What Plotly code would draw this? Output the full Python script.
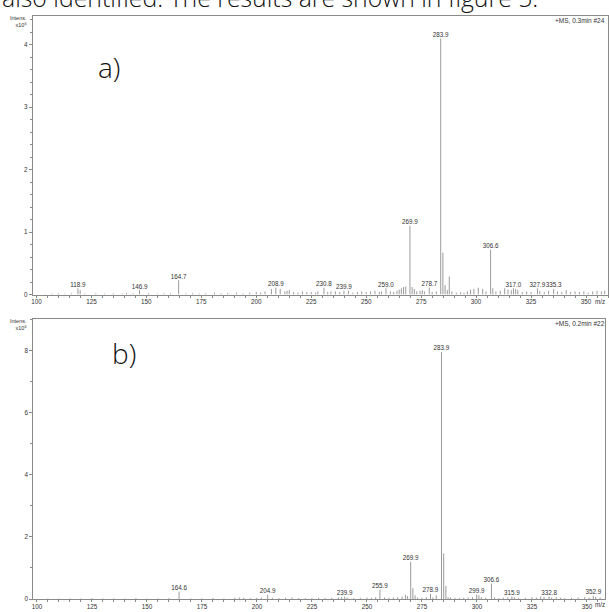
import plotly.graph_objects as go

# ---------------- data (intensity in x10^6) ----------------
top_mz = [104, 107, 110, 113, 116, 118.9, 119.9, 122, 127, 131, 135, 139, 141, 144, 146.9,
          151, 155, 158, 161, 164.7, 168, 171, 174, 177, 181, 184, 187, 191, 194, 197, 200,
          202, 204, 206.9, 208.9, 210.9, 213, 214, 215, 217, 219, 221, 223, 225, 227, 228,
          230.8, 232.5, 234, 236, 238, 239.9, 241.9, 244, 246, 248, 250, 252, 254, 256, 257,
          259.0, 261, 262.5, 264, 265, 266, 267, 268, 269.9, 270.9, 271.9, 273, 274.5, 275.5,
          276.5, 278.7, 280, 281.9, 283.9, 284.9, 285.9, 286.9, 287.8, 289, 291, 293, 294.5,
          296, 297.5, 299, 301, 303, 304.5, 306.6, 307.6, 309, 311, 313, 314.5, 316, 317.0,
          318, 319, 321, 323, 325, 327.9, 329, 331, 333, 335.3, 337, 339, 341, 343, 345, 347,
          349, 351, 353, 355, 357, 358.5]
top_int = [0.01, 0.015, 0.02, 0.015, 0.02, 0.10, 0.07, 0.015, 0.02, 0.015, 0.02, 0.015, 0.025,
           0.02, 0.07, 0.02, 0.015, 0.02, 0.02, 0.23, 0.02, 0.02, 0.015, 0.02, 0.03, 0.02, 0.025,
           0.03, 0.02, 0.03, 0.04, 0.03, 0.05, 0.09, 0.11, 0.09, 0.05, 0.06, 0.07, 0.04, 0.03,
           0.05, 0.04, 0.04, 0.03, 0.05, 0.11, 0.04, 0.05, 0.05, 0.04, 0.06, 0.06, 0.03, 0.04,
           0.05, 0.04, 0.05, 0.06, 0.04, 0.05, 0.10, 0.05, 0.04, 0.06, 0.08, 0.10, 0.12, 0.13,
           1.10, 0.12, 0.09, 0.05, 0.06, 0.07, 0.05, 0.11, 0.04, 0.05, 4.10, 0.67, 0.15, 0.07,
           0.29, 0.05, 0.03, 0.04, 0.03, 0.05, 0.08, 0.09, 0.11, 0.09, 0.05, 0.72, 0.10, 0.05,
           0.06, 0.10, 0.08, 0.07, 0.10, 0.09, 0.07, 0.04, 0.05, 0.04, 0.10, 0.06, 0.04, 0.06,
           0.09, 0.05, 0.04, 0.07, 0.04, 0.05, 0.04, 0.05, 0.03, 0.05, 0.06, 0.05, 0.06]
top_label_mz = [118.9, 146.9, 164.7, 208.9, 230.8, 239.9, 259.0, 269.9, 278.7, 283.9,
                306.6, 317.0, 327.9, 335.3]
top_label_int = [0.10, 0.07, 0.23, 0.11, 0.11, 0.06, 0.10, 1.10, 0.11, 4.10, 0.72, 0.10, 0.10, 0.09]
top_label_txt = ["118.9", "146.9", "164.7", "208.9", "230.8", "239.9", "259.0", "269.9",
                 "278.7", "283.9", "306.6", "317.0", "327.9", "335.3"]

bot_mz = [105, 110, 115, 120, 125, 130, 135, 140, 145, 150, 155, 160, 164.6, 170, 175, 180,
          185, 190, 192, 194, 197, 200, 202, 204.9, 207, 210, 213, 216, 219, 222, 225, 228,
          231, 234, 237, 238.5, 239.9, 241, 244, 247, 250, 252, 254, 255.9, 258, 260, 262, 264,
          266, 267.5, 268.5, 269.9, 270.9, 271.9, 273, 275, 277, 278.9, 280, 281.5, 283.9,
          284.9, 285.9, 286.9, 288, 290, 292, 294, 296, 298, 299.9, 300.9, 302, 304, 306.6,
          308, 310, 312, 314, 315.9, 317, 319, 322, 325, 327, 329, 330.5, 332.8, 334, 336,
          338, 340, 343, 346, 349, 351, 352.9, 354, 356]
bot_int = [0.02, 0.02, 0.02, 0.02, 0.03, 0.02, 0.02, 0.02, 0.03, 0.02, 0.02, 0.03, 0.24, 0.02,
           0.02, 0.03, 0.02, 0.04, 0.05, 0.04, 0.03, 0.04, 0.05, 0.14, 0.04, 0.03, 0.04, 0.05,
           0.03, 0.03, 0.03, 0.04, 0.03, 0.04, 0.05, 0.06, 0.08, 0.05, 0.03, 0.04, 0.05, 0.04,
           0.06, 0.30, 0.05, 0.04, 0.05, 0.06, 0.08, 0.14, 0.10, 1.20, 0.35, 0.12, 0.05, 0.04,
           0.06, 0.17, 0.05, 0.12, 7.95, 1.47, 0.42, 0.06, 0.05, 0.04, 0.03, 0.04, 0.05, 0.06,
           0.15, 0.12, 0.06, 0.04, 0.50, 0.05, 0.03, 0.04, 0.05, 0.08, 0.06, 0.04, 0.04, 0.06,
           0.05, 0.08, 0.07, 0.08, 0.05, 0.06, 0.04, 0.03, 0.04, 0.05, 0.06, 0.05, 0.10, 0.07,
           0.05]
bot_label_mz = [164.6, 204.9, 239.9, 255.9, 269.9, 278.9, 283.9, 299.9, 306.6, 315.9, 332.8, 352.9]
bot_label_int = [0.24, 0.14, 0.08, 0.30, 1.20, 0.17, 7.95, 0.15, 0.50, 0.08, 0.08, 0.10]
bot_label_txt = ["164.6", "204.9", "239.9", "255.9", "269.9", "278.9", "283.9", "299.9",
                 "306.6", "315.9", "332.8", "352.9"]

x_ticks = [100, 125, 150, 175, 200, 225, 250, 275, 300, 325, 350]

# ---------------- styling ----------------
W, H = 609, 612
AX = "#8a8a8a"
BAR = "#9a9a9a"
TXT = "#333333"
SMALL = dict(family="Liberation Sans, Arial, sans-serif", size=6.3, color=TXT)


def sticks(mz, inten):
    xs, ys = [], []
    for m, v in zip(mz, inten):
        xs += [m, m, None]
        ys += [0, v, None]
    return xs, ys


fig = go.Figure()

tx, ty = sticks(top_mz, top_int)
fig.add_trace(go.Scatter(x=tx, y=ty, mode="lines", line=dict(color=BAR, width=1),
                         xaxis="x", yaxis="y", hoverinfo="skip", showlegend=False))
fig.add_trace(go.Scatter(x=top_label_mz, y=top_label_int, mode="text", text=top_label_txt,
                         textposition="top center", textfont=SMALL,
                         xaxis="x", yaxis="y", showlegend=False))
bx, by = sticks(bot_mz, bot_int)
fig.add_trace(go.Scatter(x=bx, y=by, mode="lines", line=dict(color=BAR, width=1),
                         xaxis="x2", yaxis="y2", hoverinfo="skip", showlegend=False))
fig.add_trace(go.Scatter(x=bot_label_mz, y=bot_label_int, mode="text", text=bot_label_txt,
                         textposition="top center", textfont=SMALL,
                         xaxis="x2", yaxis="y2", showlegend=False))


def xax(domain, rng, anchor):
    return dict(domain=domain, range=rng, anchor=anchor, tickvals=x_ticks,
                ticktext=[str(v) for v in x_ticks], ticks="outside", ticklen=2,
                ticklabelstandoff=-1,
                tickcolor=AX, tickwidth=1, showline=True, linecolor=AX, linewidth=1,
                mirror=True, showgrid=False, zeroline=False, tickfont=SMALL,
                minor=dict(dtick=5, tick0=100, ticks="outside", ticklen=2, tickcolor=AX))


def yax(domain, rng, anchor, dtick, mdtick):
    return dict(domain=domain, range=rng, anchor=anchor, dtick=dtick, tick0=0,
                ticks="outside", ticklen=3, tickcolor=AX, showline=True, linecolor=AX,
                linewidth=1, mirror=True, showgrid=False, zeroline=False, tickfont=SMALL,
                minor=dict(dtick=mdtick, ticks="outside", ticklen=2, tickcolor=AX))


fig.update_layout(
    width=W, height=H, margin=dict(l=0, r=0, t=0, b=0),
    paper_bgcolor="white", plot_bgcolor="white",
    xaxis=xax([31 / W, 608 / W], [98.4, 360.0], "y"),
    yaxis=yax([1 - 296 / H, 1 - 16 / H], [0, 4.46], "x", 1, 0.2),
    xaxis2=xax([31.5 / W, 604.5 / W], [98.4, 358.0], "y2"),
    yaxis2=yax([1 - 602 / H, 1 - 321 / H], [0, 9.0], "x2", 2, 1),
)

ann = []
# clipped body text at the very top
ann.append(dict(text="also identified. The results are shown in figure 5.", xref="paper",
                yref="paper", x=-2 / W, y=1 - 16 / H, xanchor="left", yanchor="bottom",
                showarrow=False, font=dict(family="Open Sans", size=24.8, color="#111111",
                                           weight=300)))
# panel letters
ann.append(dict(text="a)", xref="paper", yref="paper", x=107 / W, y=1 - 67 / H,
                xanchor="center", yanchor="middle", showarrow=False,
                font=dict(family="Open Sans", size=28, color="#111111", weight=300)))
ann.append(dict(text="b)", xref="paper", yref="paper", x=122 / W, y=1 - 355 / H,
                xanchor="center", yanchor="middle", showarrow=False,
                font=dict(family="Open Sans", size=28, color="#111111", weight=300)))
# axis captions
for ytop, info in [(16, "+MS, 0.3min #24"), (321, "+MS, 0.2min #22")]:
    ann.append(dict(text="Intens.<br>x10<sup>6</sup>", xref="paper", yref="paper",
                    x=27 / W, y=1 - (ytop - 3) / H, xanchor="right", yanchor="top",
                    align="right", showarrow=False,
                    font=dict(family="Liberation Sans", size=5.5, color=TXT)))
    ann.append(dict(text=info, xref="paper", yref="paper", x=607 / W, y=1 - (ytop - 1) / H,
                    xanchor="right", yanchor="top", showarrow=False,
                    font=dict(family="Liberation Sans", size=6.5, color=TXT)))
for ybase in [303, 607]:
    ann.append(dict(text="m/z", xref="paper", yref="paper", x=600 / W, y=1 - ybase / H,
                    xanchor="center", yanchor="middle", showarrow=False,
                    font=SMALL))
fig.update_layout(annotations=ann)

fig.write_html("out.html", config={"displayModeBar": False},
               post_script="document.body.style.margin='0';document.body.style.overflow='hidden';")
